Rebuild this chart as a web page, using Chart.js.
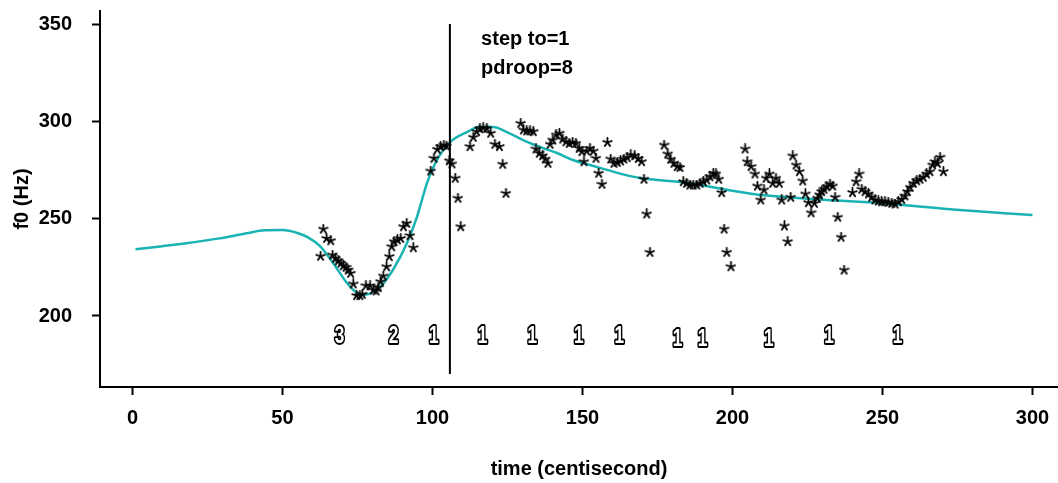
<!DOCTYPE html>
<html>
<head>
<meta charset="utf-8">
<script src="https://cdn.jsdelivr.net/npm/chart.js@4.4.1/dist/chart.umd.min.js"></script>
<style>
  body { margin: 0; background: #fff; }
  canvas { display: block; }
</style>
</head>
<body>
<canvas id="myChart" width="1058" height="483"></canvas>
<script>
// axis ticks
const xTicks = [0, 50, 100, 150, 200, 250, 300]
const yTicks = [200, 250, 300, 350]

// measured f0 (stars)
const starX = [62.7, 63.6, 64.7, 66.1, 66.7, 67.7, 68.6, 69.5, 70.3, 71.2, 71.9, 72.7, 73.6, 74.7, 75.8, 76.6, 77.8, 79.2, 80.3, 81.2,
  81.9, 82.7, 83.6, 84.7, 85.6, 86.4, 87.2, 88.3, 89.4, 90.3, 91.4, 92.5, 93.6, 99.4, 100.5, 101.6, 102.7, 103.8, 104.7, 105.6,
  106.5, 107.6, 108.5, 109.4, 112.5, 113.6, 114.7, 115.8, 116.9, 118.1, 119.4, 120.8, 122.3, 123.4, 124.5, 129.4, 130.3, 131.4, 132.5, 133.6,
  134.5, 135.6, 136.7, 137.6, 138.5, 139.2, 140.1, 141.2, 142.3, 143.4, 144.5, 145.6, 146.7, 147.8, 148.9, 149.8, 150.5, 151.4, 152.5, 153.6,
  154.5, 155.4, 156.5, 158.3, 159.4, 160.5, 161.6, 162.7, 163.8, 164.9, 166.1, 167.4, 168.6, 169.7, 170.5, 171.4, 172.5, 177.2, 178.4, 179.4,
  180.5, 181.6, 182.5, 183.6, 184.7, 185.8, 186.9, 188.1, 189.2, 190.3, 191.4, 192.5, 193.6, 194.5, 195.4, 196.4, 197.2, 198.1, 199.5, 204.2,
  204.9, 206.2, 207.5, 208.3, 209.4, 210.5, 211.2, 212.3, 213.4, 214.5, 215.6, 216.4, 217.3, 218.4, 219.4, 220.1, 221.2, 222.3, 223.4, 224.3,
  225.3, 226.2, 227.3, 228.3, 229.0, 229.7, 230.5, 231.4, 232.5, 233.4, 234.2, 235.1, 236.2, 237.2, 240.0, 241.2, 242.2, 243.1, 244.2, 245.3,
  246.4, 247.5, 248.6, 249.7, 250.8, 251.9, 253.1, 254.2, 255.3, 256.4, 257.5, 258.3, 259.2, 260.3, 261.4, 262.5, 263.6, 264.7, 265.8, 266.7,
  267.5, 268.3, 269.2, 270.3]
const starY = [230.8, 244.8, 240.0, 238.8, 231.4, 229.7, 228.4, 227.2, 225.9, 225.1, 223.7, 222.0, 216.5, 210.5, 210.5, 211.2, 215.6, 215.6, 213.4, 212.9,
  214.6, 217.7, 220.6, 225.4, 230.6, 235.7, 238.3, 239.2, 240.0, 246.0, 247.8, 241.4, 235.2, 274.7, 281.3, 285.9, 287.3, 288.1, 287.6, 280.0,
  278.4, 271.0, 260.7, 246.0, 287.3, 292.1, 295.0, 296.5, 297.0, 296.7, 294.2, 288.5, 287.3, 278.2, 263.2, 299.3, 295.9, 295.4, 295.4, 295.0,
  286.1, 283.9, 282.6, 280.9, 278.7, 288.5, 290.7, 293.3, 294.2, 291.2, 289.8, 289.0, 289.5, 289.0, 286.4, 284.7, 279.5, 285.0, 286.4, 285.0,
  281.3, 273.6, 267.9, 289.5, 280.9, 278.7, 279.2, 279.9, 280.9, 281.6, 283.0, 282.6, 281.2, 279.5, 270.5, 252.6, 232.8, 288.1, 283.5, 280.8,
  278.7, 277.0, 276.6, 269.2, 268.4, 267.5, 267.5, 267.5, 268.4, 269.2, 270.1, 271.8, 273.6, 273.2, 270.5, 263.6, 244.8, 232.8, 225.4, 286.1,
  279.5, 277.0, 273.2, 267.0, 259.8, 265.0, 271.0, 273.2, 268.4, 271.0, 268.4, 259.8, 246.4, 238.3, 261.2, 282.5, 277.8, 274.4, 269.6, 262.9,
  258.4, 253.2, 258.1, 260.7, 262.4, 264.1, 265.3, 266.6, 268.0, 267.0, 261.2, 250.9, 240.6, 223.7, 263.6, 269.2, 273.2, 265.3, 264.1, 262.9,
  261.2, 259.8, 259.3, 258.9, 258.9, 258.6, 258.1, 257.7, 258.9, 260.1, 261.9, 264.1, 266.3, 268.4, 269.7, 270.5, 271.5, 273.2, 274.4, 277.8,
  279.5, 278.7, 281.8, 274.4]

// model contour (teal curve)
const curveX = [1, 10, 18, 29, 38, 44, 50, 55, 58.5, 62.5, 66.8, 71.5, 74.8, 77.5, 82.5, 86.8, 91.5, 94.8, 98.2, 101.5, 105.8, 111.5,
  115.5, 120.2, 124.8, 130.2, 135.8, 141.5, 146.8, 152.5, 158.2, 163.5, 169.2, 184.8, 206.8, 224, 249, 275.8, 300]
const curveY = [234.4, 236, 237.5, 240, 242.6, 244.2, 244.3, 242.8, 240.5, 236, 227.5, 217, 212, 211, 215, 223.7, 237.6, 251, 268.6, 280.4, 289.5, 294.8,
  297.4, 297.4, 294.8, 290.7, 287.1, 284, 280.4, 277.8, 275.3, 273, 271.1, 268.6, 262.9, 260.6, 258.2, 254.6, 252]

// tone labels under the contour
const toneText = ['3', '2', '1', '1', '1', '1', '1', '1', '1', '1', '1', '1']
const toneX = [69, 87, 100.4, 116.7, 133.3, 148.8, 162.3, 181.7, 190, 212.1, 232.2, 255]
const toneY = [189.5, 189.5, 189.5, 189.5, 189.5, 189.5, 189.5, 187.8, 187.8, 187.8, 189.5, 189.5]

// step marker and parameter notes
const stepX = 105.8
const stepRange = [170.1, 350.5]
const noteText = ['step to=1', 'pdroop=8']
const noteX = [116.2, 116.2]
const noteY = [342.3, 327.8]

const teal = '#1ab3b3'
const boldFont = '"Liberation Sans", Arial, sans-serif'

// little five-armed asterisk used as the point marker
function makeStar(){
    const c = document.createElement('canvas')
    c.width = 11
    c.height = 11
    const g = c.getContext('2d')
    g.strokeStyle = '#000'
    g.lineWidth = 1.8
    g.lineCap = 'round'
    for(let i = 0; i < 5; i++){
        const a = -Math.PI / 2 + i * 2 * Math.PI / 5
        g.beginPath()
        g.moveTo(5.5, 5.5)
        g.lineTo(5.5 + 4.5 * Math.cos(a), 5.5 + 4.5 * Math.sin(a))
        g.stroke()
    }
    return c
}

const extras = {
    id: 'extras',
    afterDatasetsDraw(chart){
        const {ctx, scales: {x, y}} = chart
        ctx.save()
        // step line
        ctx.strokeStyle = '#000'
        ctx.lineWidth = 2
        ctx.beginPath()
        ctx.moveTo(x.getPixelForValue(stepX), y.getPixelForValue(stepRange[0]))
        ctx.lineTo(x.getPixelForValue(stepX), y.getPixelForValue(stepRange[1]))
        ctx.stroke()
        // notes
        ctx.fillStyle = '#000'
        ctx.font = `bold 20px ${boldFont}`
        ctx.textBaseline = 'middle'
        ctx.textAlign = 'left'
        noteText.forEach((t, i) => {
            ctx.fillText(t, x.getPixelForValue(noteX[i]), y.getPixelForValue(noteY[i]))
        })
        // hollow tone digits, squeezed sideways
        ctx.font = `bold 24px ${boldFont}`
        ctx.textAlign = 'center'
        ctx.lineJoin = 'round'
        toneText.forEach((t, i) => {
            const px = x.getPixelForValue(toneX[i])
            const py = y.getPixelForValue(toneY[i])
            ctx.save()
            ctx.translate(px, py)
            ctx.scale(0.72, 1)
            ctx.lineWidth = 4
            ctx.strokeStyle = '#000'
            ctx.strokeText(t, 0, 0)
            ctx.fillStyle = '#fff'
            ctx.fillText(t, 0, 0)
            ctx.restore()
        })
        ctx.restore()
    }
}

const ctx = document.getElementById('myChart')
new Chart(ctx, {
    type: 'scatter',
    data: {
        datasets: [{
            data: starX.map((v, i) => ({x: v, y: starY[i]})),
            pointStyle: makeStar(),
            pointRadius: 5,
            order: 0
        }, {
            type: 'line',
            data: curveX.map((v, i) => ({x: v, y: curveY[i]})),
            borderColor: teal,
            borderWidth: 2.5,
            pointRadius: 0,
            fill: false,
            cubicInterpolationMode: 'monotone',
            order: 1
        }]
    },
    options: {
        responsive: false,
        animation: false,
        layout: { autoPadding: false, padding: { top: 11, right: 0, left: 0, bottom: 0 } },
        plugins: {
            legend: { display: false },
            tooltip: { enabled: false }
        },
        scales: {
            x: {
                type: 'linear',
                min: -10.83,
                max: 308.5,
                afterBuildTicks: scale => { scale.ticks = xTicks.map(v => ({value: v})) },
                afterFit: scale => {
                    scale.height = 96
                    scale.paddingLeft = 0
                    scale.paddingRight = 0
                },
                border: { color: '#000', width: 2 },
                grid: { drawOnChartArea: false, color: '#000', tickLength: 8, tickWidth: 2 },
                ticks: { color: '#000', padding: 11, maxRotation: 0, font: { family: boldFont, size: 20, weight: 'bold' } },
                title: {
                    display: true,
                    text: 'time (centisecond)',
                    color: '#000',
                    padding: { top: 0, bottom: 2 },
                    font: { family: boldFont, size: 20, weight: 'bold' }
                }
            },
            y: {
                type: 'linear',
                min: 163.4,
                max: 357.2,
                afterBuildTicks: scale => { scale.ticks = yTicks.map(v => ({value: v})) },
                afterFit: scale => {
                    scale.width = 100
                    scale.paddingTop = 0
                    scale.paddingBottom = 0
                },
                border: { color: '#000', width: 2 },
                grid: { drawOnChartArea: false, color: '#000', tickLength: 8, tickWidth: 2 },
                ticks: { color: '#000', padding: 20, font: { family: boldFont, size: 20, weight: 'bold' } },
                title: {
                    display: true,
                    text: 'f0 (Hz)',
                    color: '#000',
                    padding: { top: 10, bottom: 0 },
                    font: { family: boldFont, size: 20, weight: 'bold' }
                }
            }
        }
    },
    plugins: [extras]
})
</script>
</body>
</html>
